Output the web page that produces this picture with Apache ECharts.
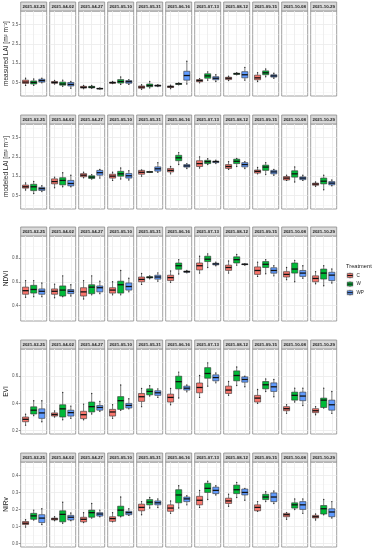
<!DOCTYPE html>
<html><head><meta charset="utf-8">
<script src="https://cdn.jsdelivr.net/npm/echarts@6/dist/echarts.min.js"></script>
<style>html,body{margin:0;padding:0;background:#fff}#c{width:373px;height:550px}</style>
</head><body><div id="c"></div>
<script>
const dates = ['2021-02-25','2021-04-02','2021-04-27','2021-05-10','2021-05-31','2021-06-16','2021-07-13','2021-08-12','2021-09-15','2021-10-08','2021-10-29'];
const treatments = ['C','W','WP'];
const rowTitles = ['measured LAI [m² m⁻²]','modeled LAI [m² m⁻²]','NDVI','EVI','NIRv'];

// each entry: [min, Q1, median, Q3, max] per date
const measLAI_C  = [[0.35,0.45,0.52,0.62,0.72],[0.42,0.46,0.5,0.55,0.6],[0.18,0.21,0.25,0.3,0.34],[0.45,0.46,0.49,0.52,0.55],[0.15,0.2,0.26,0.32,0.38],[0.18,0.24,0.28,0.32,0.36],[0.48,0.54,0.6,0.65,0.7],[0.6,0.65,0.72,0.77,0.82],[0.55,0.64,0.74,0.88,1.0],null,null];
const measLAI_W  = [[0.35,0.42,0.5,0.58,0.68],[0.3,0.36,0.42,0.52,0.62],[0.2,0.22,0.26,0.3,0.35],[0.4,0.47,0.55,0.65,0.78],[0.22,0.28,0.34,0.42,0.55],[0.38,0.4,0.43,0.45,0.48],[0.62,0.72,0.84,0.95,1.05],[0.9,0.92,0.95,0.98,1.0],[0.8,0.9,1.0,1.1,1.2],null,null];
const measLAI_WP = [[0.48,0.52,0.6,0.67,0.72],[0.2,0.32,0.4,0.5,0.55],[0.16,0.17,0.18,0.2,0.22],[0.4,0.46,0.54,0.6,0.65],[0.29,0.31,0.34,0.36,0.38],[0.42,0.62,0.86,1.08,1.6],[0.55,0.64,0.72,0.8,0.9],[0.62,0.74,0.9,1.06,1.28],[0.72,0.78,0.84,0.9,0.98],null,null];

const modLAI_C  = [[0.78,0.88,0.95,1.04,1.15],[0.9,1.1,1.22,1.36,1.45],[1.42,1.47,1.55,1.63,1.7],[1.28,1.4,1.5,1.6,1.7],[1.5,1.6,1.7,1.8,1.82],[1.62,1.72,1.8,1.9,2.0],[1.92,2.0,2.15,2.3,2.5],[1.85,1.9,2.0,2.1,2.25],[1.62,1.66,1.75,1.82,1.95],[1.28,1.3,1.4,1.48,1.55],[0.98,1.03,1.09,1.14,1.2]];
const modLAI_W  = [[0.6,0.75,0.95,1.08,1.22],[0.95,1.05,1.28,1.42,1.68],[1.35,1.38,1.45,1.52,1.58],[1.35,1.5,1.62,1.75,1.92],[1.7,1.71,1.72,1.73,1.74],[2.1,2.3,2.45,2.58,2.72],[2.1,2.15,2.25,2.32,2.4],[2.0,2.15,2.27,2.38,2.42],[1.58,1.8,1.97,2.07,2.2],[1.2,1.45,1.62,1.78,1.98],[0.8,1.1,1.24,1.4,1.55]];
const modLAI_WP = [[0.7,0.76,0.85,0.92,1.0],[0.95,1.0,1.12,1.28,1.55],[1.4,1.55,1.68,1.8,1.85],[1.3,1.4,1.52,1.64,1.78],[1.7,1.76,1.88,1.98,2.2],[1.9,1.97,2.03,2.1,2.15],[2.15,2.2,2.25,2.28,2.33],[1.9,1.98,2.1,2.2,2.25],[1.55,1.62,1.72,1.8,1.85],[1.28,1.32,1.4,1.46,1.55],[1.0,1.05,1.14,1.22,1.3]];

const ndvi_C  = [[0.47,0.495,0.525,0.555,0.61],[0.465,0.495,0.52,0.54,0.58],[0.455,0.48,0.515,0.55,0.61],[0.49,0.505,0.53,0.55,0.6],[0.578,0.6,0.62,0.64,0.67],[0.595,0.61,0.635,0.655,0.69],[0.673,0.7,0.735,0.758,0.815],[0.673,0.696,0.72,0.74,0.775],[0.645,0.662,0.695,0.725,0.765],[0.618,0.64,0.662,0.685,0.72],[0.583,0.6,0.628,0.65,0.685]];
const ndvi_W  = [[0.475,0.505,0.535,0.57,0.61],[0.475,0.48,0.53,0.565,0.65],[0.49,0.5,0.555,0.575,0.65],[0.49,0.505,0.575,0.605,0.695],[0.625,0.632,0.638,0.642,0.65],[0.665,0.705,0.735,0.758,0.786],[0.72,0.77,0.79,0.815,0.835],[0.74,0.758,0.786,0.81,0.83],[0.668,0.72,0.747,0.77,0.786],[0.6,0.673,0.707,0.758,0.78],[0.566,0.623,0.673,0.707,0.735]];
const ndvi_WP = [[0.475,0.495,0.52,0.54,0.59],[0.48,0.5,0.52,0.535,0.575],[0.5,0.515,0.55,0.565,0.605],[0.515,0.53,0.56,0.59,0.63],[0.605,0.622,0.64,0.655,0.675],[0.675,0.68,0.685,0.69,0.695],[0.735,0.742,0.75,0.756,0.765],[0.74,0.744,0.747,0.75,0.753],[0.65,0.672,0.695,0.718,0.735],[0.63,0.645,0.673,0.695,0.735],[0.59,0.61,0.656,0.68,0.707]];

const evi_C  = [[0.24,0.265,0.283,0.3,0.32],[0.3,0.307,0.318,0.33,0.345],[0.28,0.288,0.317,0.342,0.395],[0.29,0.307,0.337,0.356,0.39],[0.376,0.415,0.449,0.473,0.51],[0.39,0.41,0.444,0.468,0.51],[0.444,0.478,0.517,0.55,0.605],[0.46,0.473,0.498,0.527,0.561],[0.4,0.41,0.439,0.459,0.502],[0.327,0.346,0.361,0.376,0.39],[0.317,0.332,0.346,0.361,0.376]];
const evi_W  = [[0.31,0.322,0.35,0.375,0.42],[0.28,0.3,0.36,0.39,0.48],[0.322,0.337,0.376,0.41,0.473],[0.35,0.356,0.42,0.45,0.535],[0.454,0.463,0.488,0.507,0.53],[0.44,0.507,0.56,0.6,0.63],[0.527,0.585,0.62,0.663,0.698],[0.532,0.566,0.605,0.639,0.668],[0.488,0.507,0.537,0.561,0.58],[0.41,0.424,0.459,0.483,0.512],[0.366,0.37,0.424,0.439,0.512]];
const evi_WP = [[0.265,0.29,0.33,0.36,0.42],[0.29,0.307,0.332,0.35,0.38],[0.342,0.35,0.37,0.385,0.415],[0.36,0.366,0.385,0.4,0.434],[0.444,0.459,0.478,0.493,0.507],[0.485,0.498,0.512,0.527,0.535],[0.551,0.566,0.59,0.61,0.624],[0.522,0.556,0.576,0.595,0.6],[0.449,0.488,0.522,0.551,0.576],[0.385,0.42,0.454,0.483,0.512],[0.327,0.35,0.39,0.424,0.488]];

const nirv_C  = [[0.097,0.112,0.12,0.13,0.14],[0.135,0.139,0.145,0.15,0.158],[0.124,0.128,0.143,0.155,0.182],[0.128,0.131,0.147,0.158,0.182],[0.17,0.193,0.213,0.232,0.247],[0.178,0.19,0.209,0.228,0.251],[0.213,0.228,0.255,0.278,0.313],[0.22,0.236,0.251,0.267,0.29],[0.19,0.193,0.213,0.228,0.247],[0.143,0.158,0.17,0.178,0.182],[0.139,0.151,0.158,0.166,0.174]];
const nirv_W  = [[0.139,0.143,0.163,0.178,0.197],[0.12,0.128,0.172,0.193,0.243],[0.15,0.155,0.182,0.197,0.236],[0.158,0.162,0.197,0.22,0.274],[0.209,0.228,0.244,0.259,0.271],[0.209,0.24,0.286,0.317,0.34],[0.259,0.301,0.325,0.355,0.367],[0.271,0.294,0.317,0.344,0.36],[0.247,0.259,0.274,0.29,0.305],[0.201,0.209,0.228,0.24,0.263],[0.17,0.174,0.205,0.224,0.259]];
const nirv_WP = [[0.112,0.124,0.15,0.17,0.205],[0.135,0.139,0.155,0.166,0.18],[0.158,0.162,0.174,0.182,0.197],[0.166,0.17,0.182,0.19,0.205],[0.212,0.228,0.24,0.251,0.263],[0.228,0.247,0.263,0.274,0.282],[0.286,0.294,0.313,0.332,0.34],[0.255,0.286,0.301,0.321,0.325],[0.236,0.247,0.274,0.298,0.309],[0.178,0.201,0.228,0.247,0.263],[0.151,0.158,0.186,0.205,0.247]];

const ticksLAI  = [0.5,1.5,2.5,3.5];
const ticksNDVI = [0.4,0.6,0.8];
const ticksEVI  = [0.2,0.4,0.6];
const ticksNIRv = [0.0,0.1,0.2,0.3,0.4];
const minorLAI  = [0,1,2,3,4];
const minorNDVI = [0.3,0.5,0.7,0.9];
const minorEVI  = [0.3,0.5,0.7];
const minorNIRv = [0.05,0.15,0.25,0.35,0.45];

const rows = [
  {title: rowTitles[0], data: [measLAI_C, measLAI_W, measLAI_WP], min: -0.2, max: 4.2, ticks: ticksLAI, minor: minorLAI},
  {title: rowTitles[1], data: [modLAI_C, modLAI_W, modLAI_WP], min: -0.2, max: 4.2, ticks: ticksLAI, minor: minorLAI},
  {title: rowTitles[2], data: [ndvi_C, ndvi_W, ndvi_WP], min: 0.27, max: 0.985, ticks: ticksNDVI, minor: minorNDVI},
  {title: rowTitles[3], data: [evi_C, evi_W, evi_WP], min: 0.175, max: 0.8, ticks: ticksEVI, minor: minorEVI},
  {title: rowTitles[4], data: [nirv_C, nirv_W, nirv_WP], min: -0.02, max: 0.48, ticks: ticksNIRv, minor: minorNIRv}
];

const colors = ['#F8766D','#00BA38','#619CFF'];
const FONT = '"Liberation Sans", Arial, sans-serif';
const L0 = 20.7, PITCH = 29.0, PW = 26, PH = 85, STRIP = 9;
const rowTops = [11, 124, 236, 349, 462];
const BORDER = '#8a8a8a';

function renderBox(params, api) {
  const x = api.value(0);
  const t = api.value(6);
  const p = [1,2,3,4,5].map(i => api.coord([x, api.value(i)]));
  const cx = p[0][0];
  const bw = api.size([0.75, 0])[0];
  const ink = '#333333';
  return {type: 'group', children: [
    {type: 'line', shape: {x1: cx, y1: p[4][1], x2: cx, y2: p[3][1]}, style: {stroke: ink, lineWidth: 0.6}},
    {type: 'line', shape: {x1: cx, y1: p[1][1], x2: cx, y2: p[0][1]}, style: {stroke: ink, lineWidth: 0.6}},
    {type: 'rect', shape: {x: cx - bw/2, y: p[3][1], width: bw, height: Math.max(p[1][1] - p[3][1], 0.6)}, style: {fill: colors[t], stroke: ink, lineWidth: 0.6}},
    {type: 'line', shape: {x1: cx - bw/2, y1: p[2][1], x2: cx + bw/2, y2: p[2][1]}, style: {stroke: '#111', lineWidth: 1.3}},
    {type: 'circle', shape: {cx: cx, cy: p[0][1], r: 0.7}, style: {fill: '#333'}},
    {type: 'circle', shape: {cx: cx, cy: p[4][1], r: 0.7}, style: {fill: '#333'}}
  ]};
}

const grids = [], xAxes = [], yAxes = [], series = [], graphics = [];
rows.forEach((row, r) => {
  const top = rowTops[r];
  graphics.push({type: 'text', x: 6.5, y: top + PH/2, rotation: Math.PI/2,
    style: {text: row.title, fontSize: 6.5, fontFamily: FONT, fill: '#222', align: 'center', verticalAlign: 'middle'}});
  dates.forEach((d, c) => {
    const gi = grids.length;
    const left = L0 + PITCH * c;
    grids.push({left: left, top: top, width: PW, height: PH, show: true, borderColor: BORDER, borderWidth: 0.8, backgroundColor: '#fff', containLabel: false});
    xAxes.push({gridIndex: gi, type: 'value', min: 0.4, max: 3.6,
      axisLine: {show: false}, axisTick: {show: false, customValues: [1,2,3]},
      axisLabel: {show: false, customValues: [1,2,3]},
      splitLine: {show: true, lineStyle: {color: '#ebebeb', width: 0.8}}});
    yAxes.push({gridIndex: gi, type: 'value', min: row.min, max: row.max, position: 'left',
      axisLine: {show: false},
      axisTick: {show: c === 0, length: 2, lineStyle: {color: '#555', width: 0.6}, customValues: row.ticks},
      axisLabel: {show: c === 0, customValues: row.ticks, formatter: v => Number(v).toFixed(1), fontSize: 4.5, color: '#555', margin: 2.5, fontFamily: FONT},
      splitLine: {show: true, lineStyle: {color: '#ebebeb', width: 0.8}}});
    yAxes.push({gridIndex: gi, type: 'value', min: row.min, max: row.max, position: 'right',
      axisLine: {show: false}, axisTick: {show: false, customValues: row.minor},
      axisLabel: {show: false, customValues: row.minor},
      splitLine: {show: true, lineStyle: {color: '#f4f4f4', width: 0.5}}});
    const items = [];
    treatments.forEach((tr, t) => {
      const v = row.data[t][c];
      if (v) items.push([t + 1, v[0], v[1], v[2], v[3], v[4], t]);
    });
    series.push({type: 'custom', xAxisIndex: gi, yAxisIndex: 2 * gi, renderItem: renderBox, silent: true,
      dimensions: ['x','min','q1','median','q3','max','t'], encode: {x: 0, y: [1,2,3,4,5]}, data: items, z: 3});
    graphics.push({type: 'rect', shape: {x: left, y: top - STRIP, width: PW, height: STRIP},
      style: {fill: '#d9d9d9', stroke: BORDER, lineWidth: 0.8}});
    graphics.push({type: 'text', x: left + PW/2, y: top - STRIP/2 + 0.3,
      style: {text: d, fontSize: 4.4, fontWeight: 'bold', fontFamily: FONT, fill: '#1a1a1a', align: 'center', verticalAlign: 'middle'}});
  });
});

// legend
const LX = 346.5, LY0 = 272, LSTEP = 8.6, KW = 7, KH = 7;
graphics.push({type: 'text', x: LX - 0.5, y: 266, style: {text: 'Treatment', fontSize: 5.7, fontFamily: FONT, fill: '#222', align: 'left', verticalAlign: 'middle'}});
treatments.forEach((tr, t) => {
  const y = LY0 + t * LSTEP;
  graphics.push({type: 'rect', shape: {x: LX, y: y, width: KW, height: KH}, style: {fill: '#f2f2f2', stroke: null}});
  graphics.push({type: 'line', shape: {x1: LX + KW/2, y1: y + 0.6, x2: LX + KW/2, y2: y + KH - 0.6}, style: {stroke: '#333', lineWidth: 0.6}});
  graphics.push({type: 'rect', shape: {x: LX + 0.8, y: y + 1.6, width: KW - 1.6, height: KH - 3.2}, style: {fill: colors[t], stroke: '#333', lineWidth: 0.6}});
  graphics.push({type: 'line', shape: {x1: LX + 0.8, y1: y + KH/2, x2: LX + KW - 0.8, y2: y + KH/2}, style: {stroke: '#111', lineWidth: 1}});
  graphics.push({type: 'text', x: LX + KW + 3, y: y + KH/2, style: {text: tr, fontSize: 4.6, fontFamily: FONT, fill: '#222', align: 'left', verticalAlign: 'middle'}});
});

const chart = echarts.init(document.getElementById('c'), null, {renderer: 'canvas'});
chart.setOption({
  animation: false,
  backgroundColor: '#fff',
  grid: grids, xAxis: xAxes, yAxis: yAxes, series: series,
  graphic: {elements: graphics}
});
</script></body></html>
